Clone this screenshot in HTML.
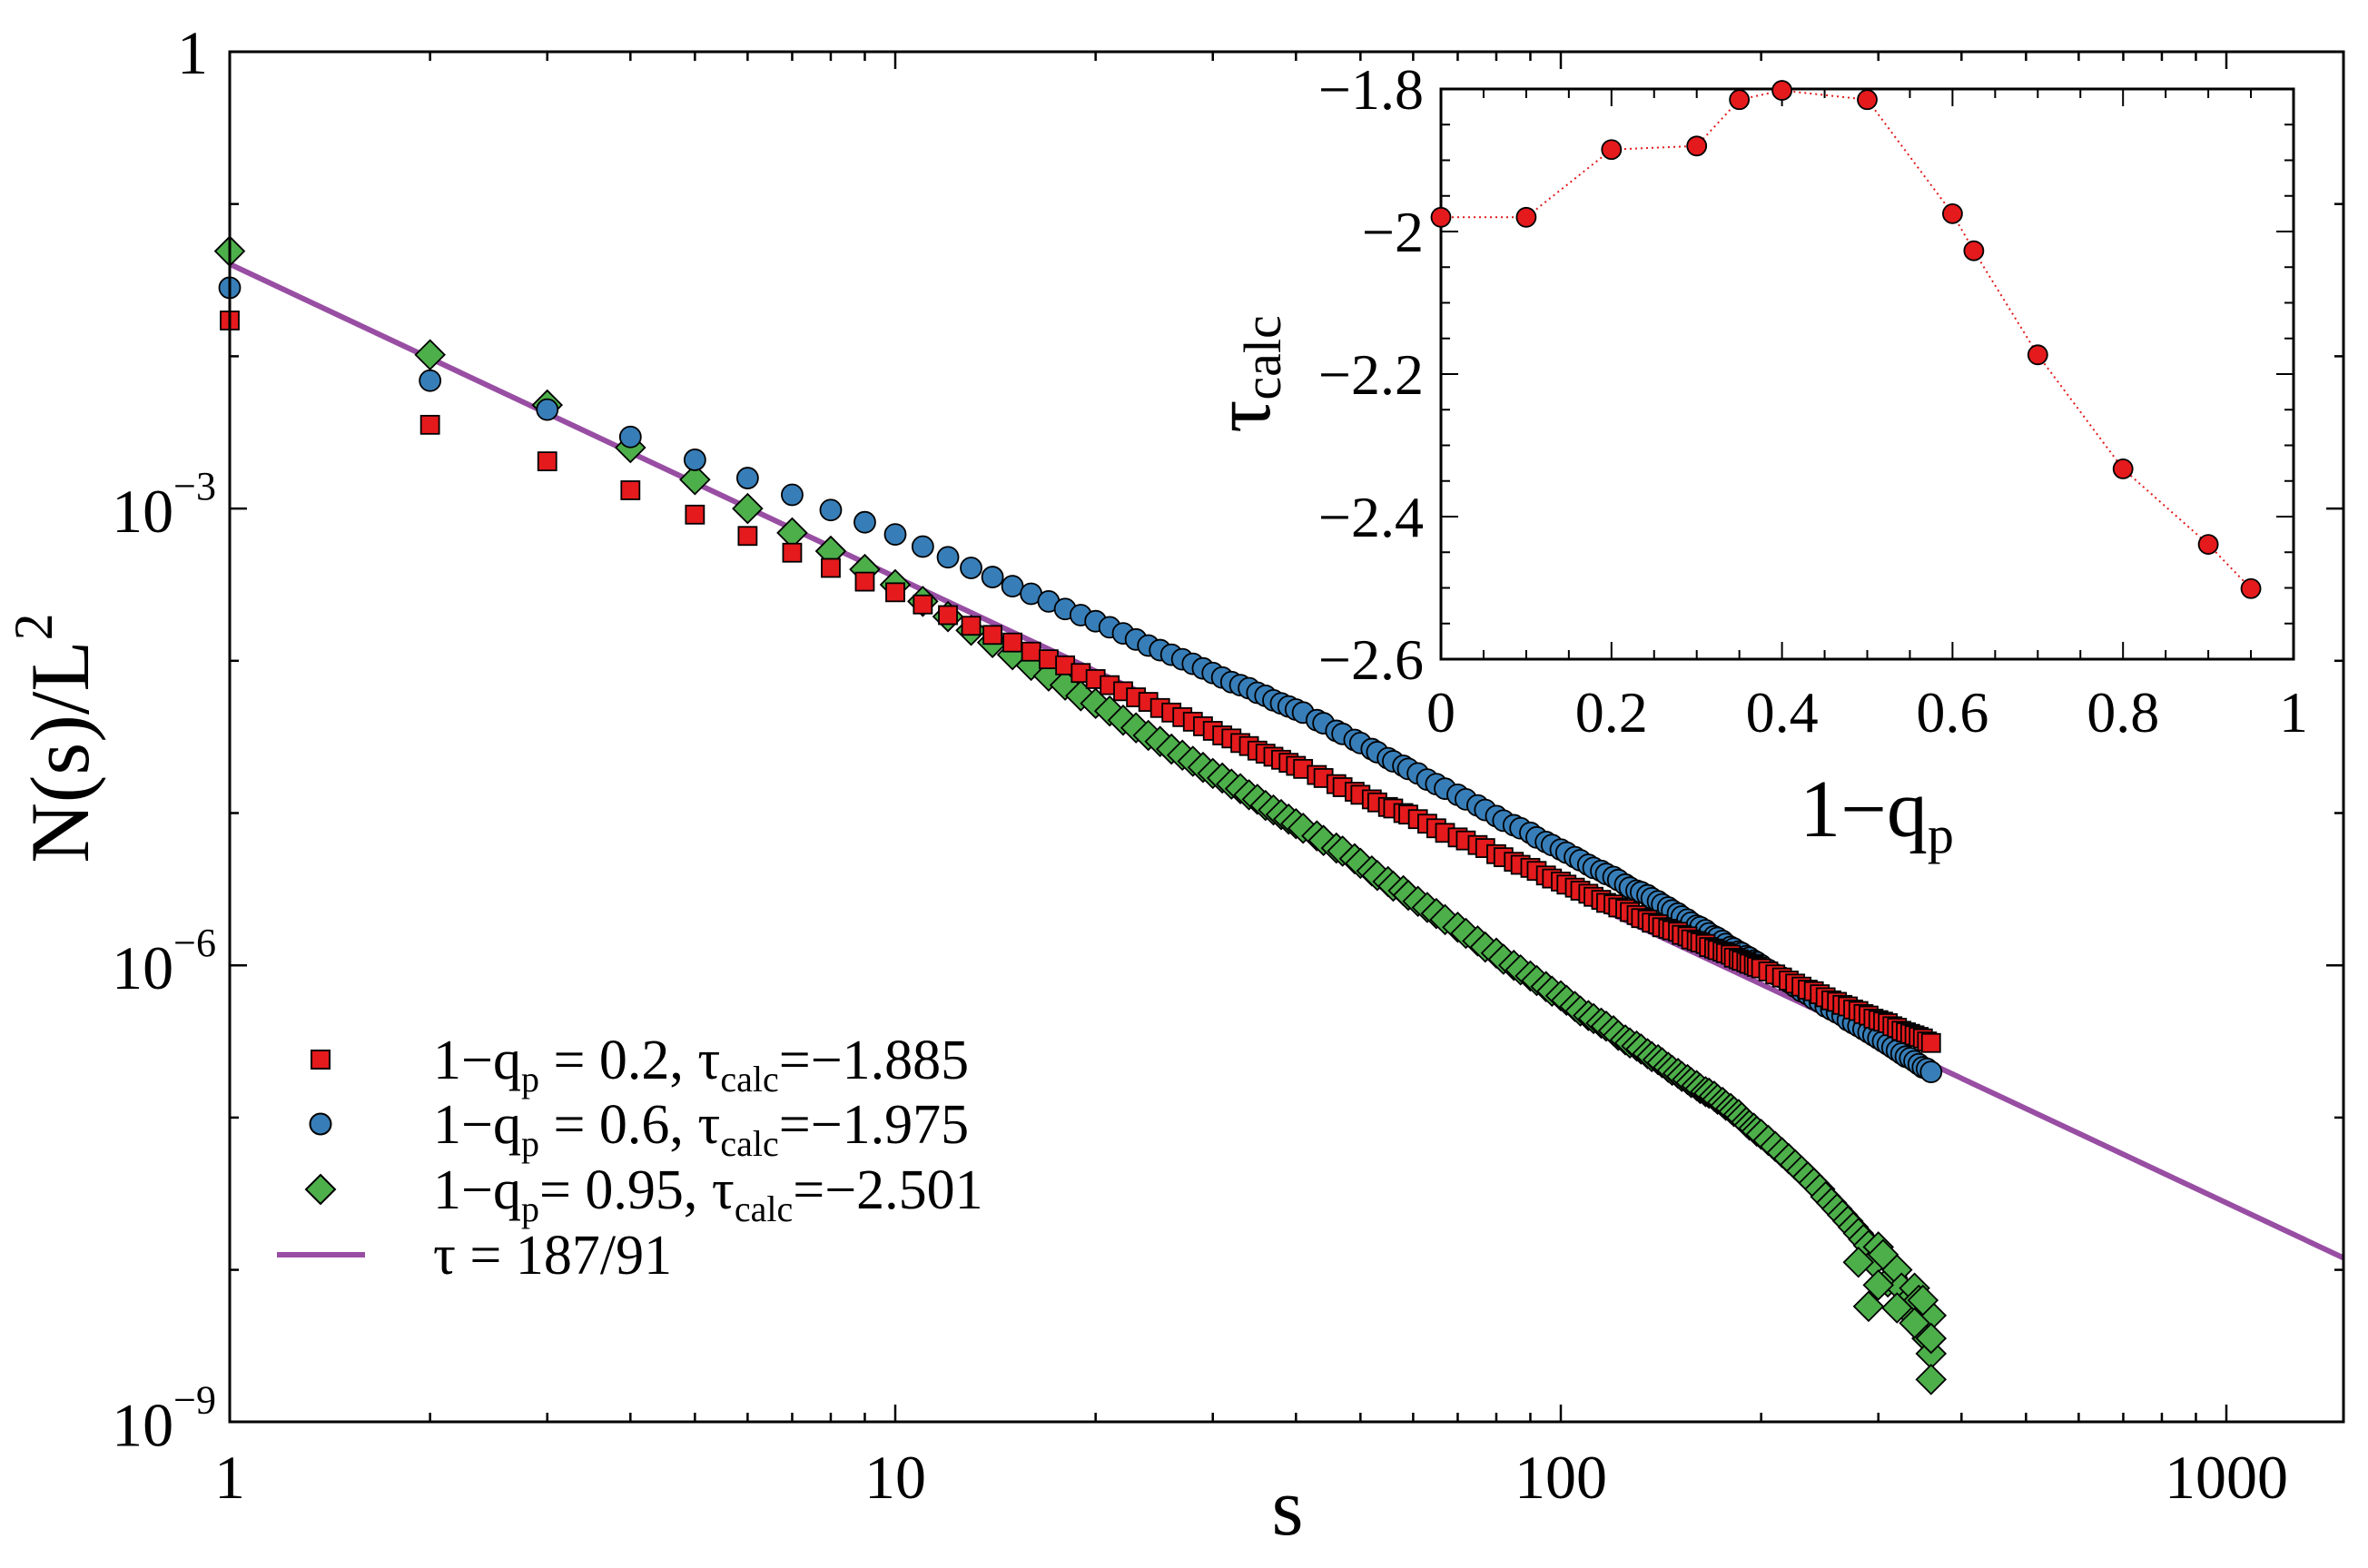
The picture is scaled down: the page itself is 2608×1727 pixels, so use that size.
<!DOCTYPE html>
<html><head><meta charset="utf-8"><style>
html,body{margin:0;padding:0;background:#fff;}
svg, svg text{font-family:"Liberation Serif","Times New Roman",serif;}
svg{display:block;}
</style></head>
<body>
<svg id="chart" width="2608" height="1727" viewBox="0 0 2608 1727" xmlns="http://www.w3.org/2000/svg" font-family="Liberation Serif, Times New Roman, serif">
<rect width="2608" height="1727" fill="#fff"/>
<g id="main-plot"></g>
<g id="inset"></g>
<g id="legend">
  <rect x="343" y="1157" width="20" height="20" fill="#e41a1c" stroke="#000" stroke-width="2"/>
  <text x="477" y="1188" font-size="62" font-family="Liberation Serif, serif">1−q<tspan font-size="40" dy="14">p</tspan><tspan dy="-14"> = 0.2, τ</tspan><tspan font-size="40" dy="14">calc</tspan><tspan dy="-14">=−1.885</tspan></text>
  <circle cx="353" cy="1238" r="11.5" fill="#377eb8" stroke="#000" stroke-width="2"/>
  <text x="477" y="1259" font-size="62" font-family="Liberation Serif, serif">1−q<tspan font-size="40" dy="14">p</tspan><tspan dy="-14"> = 0.6, τ</tspan><tspan font-size="40" dy="14">calc</tspan><tspan dy="-14">=−1.975</tspan></text>
  <path d="M353,1294 L369,1310 L353,1326 L337,1310 Z" fill="#4daf4a" stroke="#000" stroke-width="2"/>
  <text x="477" y="1331" font-size="62" font-family="Liberation Serif, serif">1−q<tspan font-size="40" dy="14">p</tspan><tspan dy="-14">= 0.95, τ</tspan><tspan font-size="40" dy="14">calc</tspan><tspan dy="-14">=−2.501</tspan></text>
  <line x1="305" y1="1382" x2="402" y2="1382" stroke="#984ea3" stroke-width="6"/>
  <text x="477" y="1403" font-size="62" font-family="Liberation Serif, serif">τ = 187/91</text>
</g>
</svg>
<script>
// ---------- main chart data ----------
const sValues = [1,2,3,4,5,6,7,8,9,10,11,12,13,14,15,16,17,18,19,20,
 22,24,26,28,30,32,34,36,38,40,43,46,49,52,55,58,61,65,70,75,80,85,90,95,100,
 105,110,115,120,125,130,135,140,145,150,155,160,165,170,175,180,185,190,195,200,
 210,220,230,240,250,260,270,280,290,300,310,320,330,340,350,360];
const redLog = [-1.765,-2.45,-2.69,-2.88,-3.04,-3.18,-3.29,-3.39,-3.48,-3.55,
 -3.63,-3.70,-3.77,-3.83,-3.88,-3.94,-3.99,-4.03,-4.08,-4.12,
 -4.20,-4.27,-4.34,-4.40,-4.46,-4.51,-4.56,-4.61,-4.65,-4.69,
 -4.75,-4.81,-4.86,-4.91,-4.96,-5.00,-5.04,
 -5.10,-5.16,-5.21,-5.27,-5.32,-5.36,-5.41,-5.45,
 -5.49,-5.53,-5.57,-5.60,-5.63,-5.67,-5.70,-5.73,-5.76,-5.78,-5.81,-5.84,-5.86,-5.89,-5.91,-5.93,-5.96,-5.98,-6.00,-6.02,
 -6.06,-6.10,-6.14,-6.17,-6.21,-6.24,-6.27,-6.30,-6.33,-6.36,-6.38,-6.41,-6.44,-6.46,-6.48,-6.51];
const blueLog = [-1.55,-2.16,-2.35,-2.53,-2.68,-2.80,-2.91,-3.01,-3.09,-3.17,
 -3.25,-3.32,-3.39,-3.45,-3.51,-3.56,-3.61,-3.66,-3.70,-3.74,
 -3.82,-3.90,-3.96,-4.02,-4.08,-4.14,-4.18,-4.23,-4.28,-4.32,
 -4.39,-4.46,-4.52,-4.58,-4.64,-4.69,-4.74,
 -4.81,-4.88,-4.95,-5.02,-5.08,-5.13,-5.19,-5.24,
 -5.29,-5.34,-5.38,-5.42,-5.47,-5.51,-5.54,-5.58,-5.62,-5.66,-5.70,-5.74,-5.77,-5.81,-5.84,-5.88,-5.91,-5.94,-5.97,-6.00,
 -6.06,-6.11,-6.17,-6.22,-6.27,-6.31,-6.36,-6.40,-6.44,-6.48,-6.52,-6.56,-6.60,-6.63,-6.67,-6.70];
const greenLog = [-1.31,-1.99,-2.32,-2.60,-2.81,-3.00,-3.16,-3.28,-3.40,-3.50,
 -3.61,-3.71,-3.80,-3.88,-3.96,-4.03,-4.10,-4.16,-4.23,-4.28,
 -4.39,-4.49,-4.58,-4.66,-4.74,-4.81,-4.88,-4.95,-5.01,-5.07,
 -5.15,-5.23,-5.30,-5.38,-5.45,-5.51,-5.58,
 -5.66,-5.75,-5.84,-5.92,-6.00,-6.07,-6.14,-6.20,
 -6.27,-6.33,-6.38,-6.43,-6.49,-6.53,-6.58,-6.62,-6.67,-6.71,-6.75,-6.79,-6.83,-6.86,-6.90,-6.94,-6.98,-7.03,-7.07,-7.11,
 -7.19,-7.27,-7.35,-7.43,-7.52,-7.60,-7.68,-7.76,-7.84,-7.85,-8.08,-8.00,-8.22,-8.12,-8.40,-8.30];
// additional sizes (dense tail)
const sValues2 = [21,23,25,27,29,31,33,35,37,39,41,44,47,50,53,56,59,63,67,72,77,82,87,92,97,
 102,107,112,117,122,127,132,137,142,147,152,157,162,167,172,177,182,187,192,197,
 205,215,225,235,245,255,265,275,285,295,305,315,325,335,345,355];
const redLog2 = [-4.16,-4.24,-4.31,-4.37,-4.43,-4.49,-4.54,-4.59,-4.63,-4.67,-4.71,-4.77,-4.83,-4.88,-4.93,-4.97,-5.01,-5.07,-5.13,-5.18,-5.23,-5.29,-5.34,-5.38,-5.43,
 -5.47,-5.51,-5.55,-5.59,-5.62,-5.65,-5.69,-5.72,-5.75,-5.77,-5.80,-5.83,-5.85,-5.88,-5.90,-5.92,-5.95,-5.97,-5.99,-6.01,
 -6.04,-6.08,-6.12,-6.16,-6.19,-6.23,-6.26,-6.29,-6.32,-6.35,-6.37,-6.40,-6.43,-6.45,-6.47,-6.50];
const blueLog2 = [-3.78,-3.86,-3.93,-3.99,-4.05,-4.11,-4.16,-4.21,-4.26,-4.30,-4.34,-4.41,-4.48,-4.54,-4.60,-4.66,-4.71,-4.78,-4.84,-4.91,-4.98,-5.05,-5.10,-5.16,-5.21,
 -5.26,-5.31,-5.36,-5.40,-5.44,-5.49,-5.52,-5.56,-5.60,-5.64,-5.68,-5.72,-5.75,-5.79,-5.82,-5.86,-5.89,-5.92,-5.95,-5.98,
 -6.03,-6.08,-6.14,-6.19,-6.24,-6.29,-6.33,-6.38,-6.42,-6.46,-6.50,-6.54,-6.58,-6.61,-6.65,-6.68];
const greenLog2 = [-4.33,-4.44,-4.53,-4.62,-4.70,-4.77,-4.84,-4.91,-4.98,-5.04,-5.10,-5.18,-5.25,-5.33,-5.41,-5.48,-5.54,-5.62,-5.70,-5.79,-5.88,-5.96,-6.03,-6.10,-6.17,
 -6.23,-6.30,-6.35,-6.40,-6.46,-6.51,-6.55,-6.60,-6.64,-6.69,-6.73,-6.77,-6.81,-6.84,-6.88,-6.92,-6.96,-7.00,-7.05,-7.09,
 -7.15,-7.23,-7.31,-7.39,-7.47,-7.56,-7.64,-7.72,-7.80,-7.95,-7.90,-8.05,-8.12,-8.28,-8.20,-8.45];
const greenExtraS = [280,290,300,320,340,350,360,360,360];
const greenExtraLog = [-7.95,-8.24,-8.10,-8.25,-8.35,-8.20,-8.55,-8.72,-8.45];
const lineTau = [2.055];
const lineAmp = [0.0403];
const xTickVals = [1,10,100,1000];
const xTickLabels = ["1","10","100","1000"];
const yTickExp = [0,-3,-6,-9];

// ---------- inset data ----------
const insetX = [0,0.1,0.2,0.3,0.35,0.4,0.5,0.6,0.625,0.7,0.8,0.9,0.95];
const insetTau = [-1.98,-1.98,-1.885,-1.88,-1.815,-1.802,-1.815,-1.975,-2.027,-2.173,-2.333,-2.439,-2.501];
const insetXTicks = [0,0.2,0.4,0.6,0.8,1];
const insetXLabels = ["0","0.2","0.4","0.6","0.8","1"];
const insetYTicks = [-1.8,-2,-2.2,-2.4,-2.6];
const insetYLabels = ["−1.8","−2","−2.2","−2.4","−2.6"];

const NS = "http://www.w3.org/2000/svg";
const FF = "Liberation Serif, Times New Roman, serif";
function mk(tag, attrs, parent){const e=document.createElementNS(NS,tag);for(const k in attrs)e.setAttribute(k,attrs[k]);if(tag==='text')e.setAttribute('font-family',FF);parent.appendChild(e);return e;}

const L=253,R=2581,T=57,B=1566;
const X = s => L + 733*Math.log10(s);
const Y = lg => T - 167.7*lg;
const main = document.getElementById('main-plot');

const lineEl = mk('path',{d:`M${X(1)},${Y(Math.log10(lineAmp[0]))} L${R},${Y(Math.log10(lineAmp[0]) - lineTau[0]*((R-L)/733))}`,stroke:'#984ea3','stroke-width':6,fill:'none'},main);



const clip = mk('clipPath',{id:'mainclip'},main);
mk('rect',{x:L-20,y:T,width:R-L+20,height:B-T},clip);
const marks = mk('g',{'clip-path':'url(#mainclip)'},main);

function diamond(cx,cy,g){const h=16;return mk('path',{d:`M${cx},${cy-h} L${cx+h},${cy} L${cx},${cy+h} L${cx-h},${cy} Z`,fill:'#4daf4a',stroke:'#000','stroke-width':1.8},g);}
function merge(sa,va,sb,vb){const a=sa.map((s,i)=>[s,va[i]]).concat(sb.map((s,i)=>[s,vb[i]]));a.sort((p,q)=>p[0]-q[0]);return a;}

const gG = mk('g',{},marks);


merge(sValues,greenLog,sValues2,greenLog2).concat(greenExtraS.map((s,i)=>[s,greenExtraLog[i]])).forEach(p=>{const d=diamond(X(p[0]),Y(p[1]),gG);

});
const gB = mk('g',{},marks);


merge(sValues,blueLog,sValues2,blueLog2).forEach(p=>{const c=mk('circle',{cx:X(p[0]),cy:Y(p[1]),r:11.5,fill:'#377eb8',stroke:'#000','stroke-width':1.8},gB);

});
const gR = mk('g',{},marks);


merge(sValues,redLog,sValues2,redLog2).forEach(p=>{const r=mk('rect',{x:X(p[0])-10,y:Y(p[1])-10,width:20,height:20,fill:'#e41a1c',stroke:'#000','stroke-width':1.8},gR);

});

const frame = mk('rect',{x:L,y:T,width:R-L,height:B-T,fill:'none',stroke:'#000','stroke-width':3},main);


for(let d=0; d<4; d++){for(let m=1;m<=9;m++){const s=m*10**d;const x=X(s);if(x>R)continue;const len=m===1?19:10;
 mk('line',{x1:x,y1:B,x2:x,y2:B-len,stroke:'#000','stroke-width':2.5},main);
 mk('line',{x1:x,y1:T,x2:x,y2:T+len,stroke:'#000','stroke-width':2.5},main);}}
xTickVals.forEach((v,i)=>{const t=mk('text',{x:X(v),y:1650,'font-size':68,'text-anchor':'middle'},main);t.textContent=xTickLabels[i];

});
for(let e=0;e>=-9;e--){const y=Y(e);const len=(e%3===0)?19:10;
 mk('line',{x1:L,y1:y,x2:L+len,y2:y,stroke:'#000','stroke-width':2.5},main);
 mk('line',{x1:R,y1:y,x2:R-len,y2:y,stroke:'#000','stroke-width':2.5},main);}
yTickExp.forEach(e=>{const y=Y(e);let t;
 if(e===0){t=mk('text',{x:229,y:y+24,'font-size':68,'text-anchor':'end'},main);t.textContent='1';}
 else{t=mk('text',{x:238,y:y+26,'font-size':68,'text-anchor':'end'},main);
  const a=mk('tspan',{},t);a.textContent='10';const b=mk('tspan',{'font-size':44,dy:-36},t);b.textContent='−'+Math.abs(e);}
 
 });
const xt=mk('text',{x:1418,y:1690,'font-size':90,'text-anchor':'middle'},main);xt.textContent='s';


const yt=mk('text',{x:0,y:0,'font-size':92,'text-anchor':'middle',transform:'translate(97,813) rotate(-90)'},main);
mk('tspan',{},yt).textContent='N(s)/L';const sup=mk('tspan',{'font-size':60,dy:-40},yt);sup.textContent='2';



// ---------- inset ----------
const inset=document.getElementById('inset');
const IL=1587,IR=2526,IT=98,IB=726;
const IX=x=>IL+(IR-IL)*x;
const IY=t=>IT+(-1.8-t)/0.8*(IB-IT);
mk('rect',{x:IL,y:IT,width:IR-IL,height:IB-IT,fill:'#fff',stroke:'#000','stroke-width':3},inset);
for(let k=0;k<=20;k++){const x=IX(k*0.05);const len=(k%4===0)?19:10;
 mk('line',{x1:x,y1:IB,x2:x,y2:IB-len,stroke:'#000','stroke-width':2},inset);
 mk('line',{x1:x,y1:IT,x2:x,y2:IT+len,stroke:'#000','stroke-width':2},inset);}
for(let k=0;k<=16;k++){const y=IY(-1.8-k*0.05);const len=(k%4===0)?19:10;
 mk('line',{x1:IL,y1:y,x2:IL+len,y2:y,stroke:'#000','stroke-width':2},inset);
 mk('line',{x1:IR,y1:y,x2:IR-len,y2:y,stroke:'#000','stroke-width':2},inset);}
insetXTicks.forEach((v,i)=>{const t=mk('text',{x:IX(v),y:806,'font-size':64,'text-anchor':'middle'},inset);t.textContent=insetXLabels[i];

});
insetYTicks.forEach((v,i)=>{const t=mk('text',{x:1568,y:IY(v)+22,'font-size':64,'text-anchor':'end'},inset);t.textContent=insetYLabels[i];

});
const ixt=mk('text',{x:2067,y:921,'font-size':90,'text-anchor':'middle'},inset);
mk('tspan',{},ixt).textContent='1−q';const ps=mk('tspan',{'font-size':58,dy:18},ixt);ps.textContent='p';


const iyt=mk('text',{x:0,y:0,'font-size':90,'text-anchor':'middle',transform:'translate(1398,412) rotate(-90)'},inset);
mk('tspan',{},iyt).textContent='τ';const cs=mk('tspan',{'font-size':58,dy:12},iyt);cs.textContent='calc';


const iclip=mk('clipPath',{id:'insetclip'},inset);mk('rect',{x:IL-15,y:IT-15,width:IR-IL+30,height:IB-IT+30},iclip);
const ig=mk('g',{'clip-path':'url(#insetclip)'},inset);
const ipath=mk('path',{d:insetX.map((x,i)=>(i?'L':'M')+IX(x)+','+IY(insetTau[i])).join(' '),fill:'none',stroke:'#e41a1c','stroke-width':2,'stroke-dasharray':'2 4'},ig);


insetX.forEach((x,i)=>{const c=mk('circle',{cx:IX(x),cy:IY(insetTau[i]),r:10.5,fill:'#e41a1c',stroke:'#000','stroke-width':1.8},ig);

});
</script>
</body></html>
